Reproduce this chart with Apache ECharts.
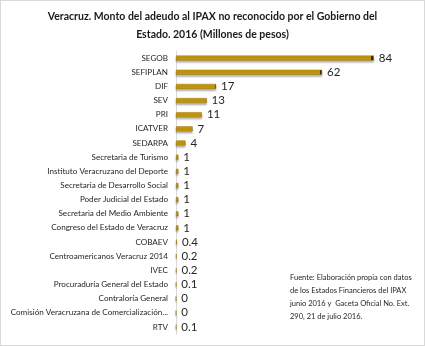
<!DOCTYPE html>
<html>
<head>
<meta charset="utf-8">
<script src="https://cdn.jsdelivr.net/npm/echarts@6/dist/echarts.min.js"></script>
<style>
  html, body { margin: 0; padding: 0; background: #ffffff; }
  #chart { width: 423px; height: 344px; border: 1px solid #d9d9d9; }
</style>
</head>
<body>
<div id="chart"></div>
<script>
// Dependencias y montos adeudados (millones de pesos), de arriba hacia abajo
const categories = [
  'SEGOB', 'SEFIPLAN', 'DIF', 'SEV', 'PRI', 'ICATVER', 'SEDARPA',
  'Secretaria de Turismo', 'Instituto Veracruzano del Deporte',
  'Secretaria de Desarrollo Social', 'Poder Judicial del Estado',
  'Secretaria del Medio Ambiente', 'Congreso del Estado de Veracruz',
  'COBAEV', 'Centroamericanos Veracruz 2014', 'IVEC',
  'Procuraduría General del Estado', 'Contraloría General',
  'Comisión Veracruzana de Comercialización...', 'RTV'
];
const montos = [84, 62, 17, 13, 11, 7, 4, 1, 1, 1, 1, 1, 1, 0.4, 0.2, 0.2, 0.1, 0, 0, 0.1];

const titulo = 'Veracruz. Monto del adeudo al IPAX no reconocido por el Gobierno del\nEstado. 2016 (Millones de pesos)';
const fuente = [
  'Fuente: Elaboración propia con datos',
  'de los Estados Financieros del IPAX',
  'junio 2016 y  Gaceta Oficial No. Ext.',
  '290, 21 de julio 2016.'
];

const fam = 'Lato, sans-serif';

const chart = echarts.init(document.getElementById('chart'));
chart.setOption({
  animation: false,
  title: {
    text: titulo,
    left: 'center',
    top: 2,
    textStyle: { fontFamily: fam, fontSize: 10.5, fontWeight: 'bold', color: '#1a1a1a', lineHeight: 18 }
  },
  grid: { left: 175, right: 36, top: 50, bottom: 11, containLabel: false, outerBoundsMode: 'none' },
  xAxis: {
    type: 'value', min: 0, max: 90, show: false
  },
  yAxis: {
    type: 'category',
    data: categories,
    inverse: true,
    axisLine: { show: true, lineStyle: { color: '#d9d9d9', width: 1 } },
    axisTick: { show: false },
    axisLabel: { interval: 0, fontFamily: fam, fontSize: 8.1, color: '#262626', margin: 8 }
  },
  series: [{
    type: 'bar',
    data: montos,
    barWidth: 5,
    itemStyle: {
      color: {
        type: 'linear', x: 0, y: 0, x2: 1, y2: 0,
        colorStops: [
          { offset: 0, color: '#c99a0c' },
          { offset: 0.985, color: '#c99a0c' },
          { offset: 0.986, color: '#3b2c02' },
          { offset: 1, color: '#3b2c02' }
        ]
      },
      borderColor: '#9a7406',
      borderWidth: 0.5,
      shadowColor: 'rgba(0,0,0,0.3)',
      shadowBlur: 2,
      shadowOffsetY: 2
    },
    label: {
      show: true,
      position: 'right',
      distance: 5,
      fontFamily: fam,
      fontSize: 11.5,
      color: '#262626'
    }
  }],
  graphic: [{
    type: 'text',
    left: 289,
    top: 270,
    style: {
      text: fuente.join('\n'),
      font: '7.5px ' + fam,
      lineHeight: 13,
      fill: '#262626'
    }
  }]
});
</script>
</body>
</html>
